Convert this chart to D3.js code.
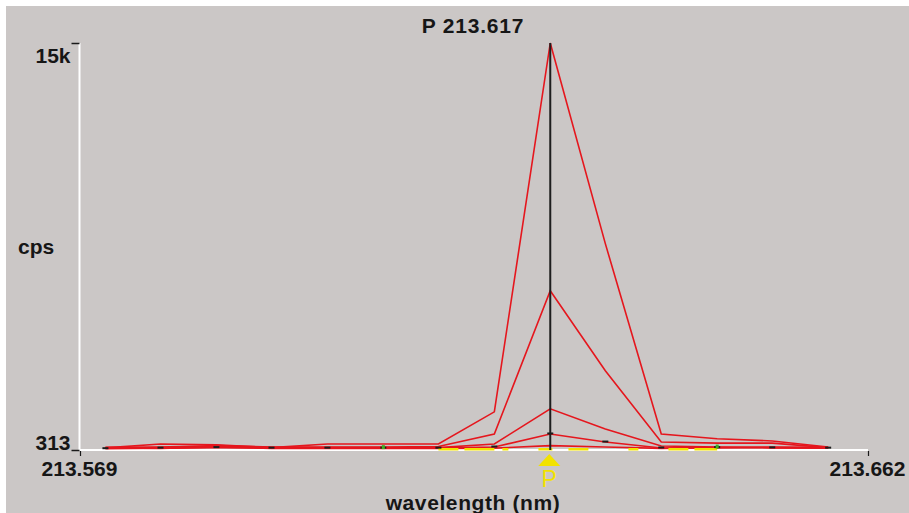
<!DOCTYPE html>
<html>
<head>
<meta charset="utf-8">
<script src="https://cdn.jsdelivr.net/npm/d3@7/dist/d3.min.js"></script>
<style>
  html, body { margin: 0; padding: 0; background: #ffffff; }
  svg { display: block; }
  text { font-family: "Liberation Sans", Arial, sans-serif; fill: #161616; }
</style>
</head>
<body>
<svg id="chart" width="909" height="513"></svg>
<script>
// Scan wavelengths (nm) and intensity readings (cps) for each replicate scan
const wavelengths = [213.5720, 213.5785, 213.5851, 213.5916, 213.5982, 213.6048, 213.6113,
                     213.6179, 213.6245, 213.6310, 213.6376, 213.6442, 213.6507, 213.6573];
const scanA = [390, 530, 500, 400, 530, 530, 530, 1690, 15000, 7760, 890, 720, 640, 420];
const scanB = [410, 420, 470, 420, 420, 420, 440, 890, 6060, 3170, 600, 560, 560, 400];
const scanC = [380, 400, 430, 400, 400, 400, 400, 530, 1800, 1070, 460, 420, 400, 390];
const scanD = [360, 380, 400, 380, 380, 380, 380, 420, 892, 600, 385, 400, 390, 380];
const scanE = [400, 370, 420, 370, 370, 370, 370, 380, 470, 420, 370, 400, 420, 410];
const scans = [scanA, scanB, scanC, scanD, scanE];
// Blank trace that sits on the baseline around the peak window
const blankWl = [213.6113, 213.6179, 213.6245, 213.6310, 213.6376, 213.6442];
const blankCps = [340, 340, 340, 340, 340, 340];
// Points flagged in green
const flaggedWl = [213.6048, 213.6442];

const peakWl = 213.6245;
const peakLabel = "P 213.617";
const xDomain = [213.569, 213.662];
const xTickLabels = ["213.569", "213.662"];
const yDomain = [313, 15000];
const yTickLabels = ["313", "15k"];
const yTitle = "cps";
const xTitle = "wavelength (nm)";

const svg = d3.select("#chart");
const W = 909, H = 513;

// panel background with light frame on the top/left
svg.append("rect").attr("width", W).attr("height", H).attr("fill", "#ffffff");
svg.append("rect").attr("x", 6).attr("y", 6).attr("width", W - 6).attr("height", H - 6).attr("fill", "#cbc7c6");

const x = d3.scaleLinear().domain(xDomain).range([80, 868]);
const y = d3.scaleLinear().domain(yDomain).range([450, 43]);

// axis lines
svg.append("line").attr("x1", 79.5).attr("x2", 79.5).attr("y1", y(yDomain[1])).attr("y2", y(yDomain[0]))
  .attr("stroke", "#ffffff").attr("stroke-width", 2);
svg.append("line").attr("x1", 79).attr("x2", x(xDomain[1])).attr("y1", 450).attr("y2", 450)
  .attr("stroke", "#ffffff").attr("stroke-width", 2);

// y ticks and labels
const yAxis = d3.axisLeft(y).tickValues(yDomain).tickSize(8).tickFormat((d, i) => yTickLabels[i]);
const gy = svg.append("g").attr("transform", "translate(79.5,0)").call(yAxis);
gy.select(".domain").remove();
gy.selectAll(".tick line").attr("stroke", "#1a1a1a").attr("stroke-width", 1.5);
gy.selectAll(".tick text")
  .attr("x", -9).attr("dy", (d, i) => i === 1 ? "0.93em" : "-0.02em")
  .style("font-size", "21px").style("font-weight", "bold").attr("fill", "#161616")
  .style("font-family", "'Liberation Sans', Arial, sans-serif");

// x ticks and labels
const xAxis = d3.axisBottom(x).tickValues(xDomain).tickSize(5).tickFormat((d, i) => xTickLabels[i]);
const gx = svg.append("g").attr("transform", "translate(0,451)").call(xAxis);
gx.select(".domain").remove();
gx.selectAll(".tick line").attr("stroke", "#1a1a1a").attr("stroke-width", 1.2);
gx.selectAll(".tick text")
  .attr("y", 9).attr("dy", "0.76em").attr("dx", -1)
  .style("font-size", "21px").style("font-weight", "bold").attr("fill", "#161616")
  .style("font-family", "'Liberation Sans', Arial, sans-serif");

const line = d3.line().x(d => x(d[0])).y(d => y(d[1]));

// replicate scans
svg.append("g").selectAll("path").data(scans).join("path")
  .attr("d", s => line(wavelengths.map((w, i) => [w, s[i]])))
  .attr("fill", "none").attr("stroke", "#e5161d").attr("stroke-width", 1.6)
  .attr("stroke-linejoin", "miter");

// blank trace along the baseline
svg.append("path")
  .datum(blankWl.map((w, i) => [w, blankCps[i]]))
  .attr("d", line).attr("fill", "none").attr("stroke", "#f2e200").attr("stroke-width", 2.5)
  .attr("stroke-dasharray", "20,6,30,8,6,30,14,16,20,40,10,30");

// point markers along the baseline of the lowest scan
svg.append("g").selectAll("rect").data(wavelengths).join("rect")
  .attr("x", d => x(d) - 3).attr("y", (d, i) => y(scanD[i]) - 1.5)
  .attr("width", 6).attr("height", 2).attr("fill", "#1c1c1c");
svg.append("g").selectAll("rect").data(flaggedWl).join("rect")
  .attr("x", d => x(d) - 1.5).attr("y", d => y(scanD[wavelengths.indexOf(d)]) - 3)
  .attr("width", 3).attr("height", 4).attr("fill", "#3fae1f");

// peak position marker
svg.append("line").attr("x1", x(peakWl)).attr("x2", x(peakWl))
  .attr("y1", y(yDomain[1])).attr("y2", y(yDomain[0]))
  .attr("stroke", "#1e1e1e").attr("stroke-width", 2);
const px = x(peakWl) - 1;
svg.append("path")
  .attr("d", `M${px - 11},466 L${px},454 L${px + 11},466 Z`)
  .attr("fill", "#f2e200");
svg.append("text").attr("x", px).attr("y", 487).attr("text-anchor", "middle")
  .style("font-size", "23px").attr("fill", "#f2e200").style("fill", "#f2e200").text("P");

// titles
svg.append("text").attr("x", 473).attr("y", 33).attr("text-anchor", "middle")
  .style("font-size", "21px").style("font-weight", "bold").style("letter-spacing", "0.8px")
  .text(peakLabel);
svg.append("text").attr("x", 18).attr("y", 254)
  .style("font-size", "21px").style("font-weight", "bold").text(yTitle);
svg.append("text").attr("x", 473).attr("y", 510).attr("text-anchor", "middle")
  .style("font-size", "21px").style("font-weight", "bold").style("letter-spacing", "0.6px")
  .text(xTitle);
</script>
</body>
</html>
